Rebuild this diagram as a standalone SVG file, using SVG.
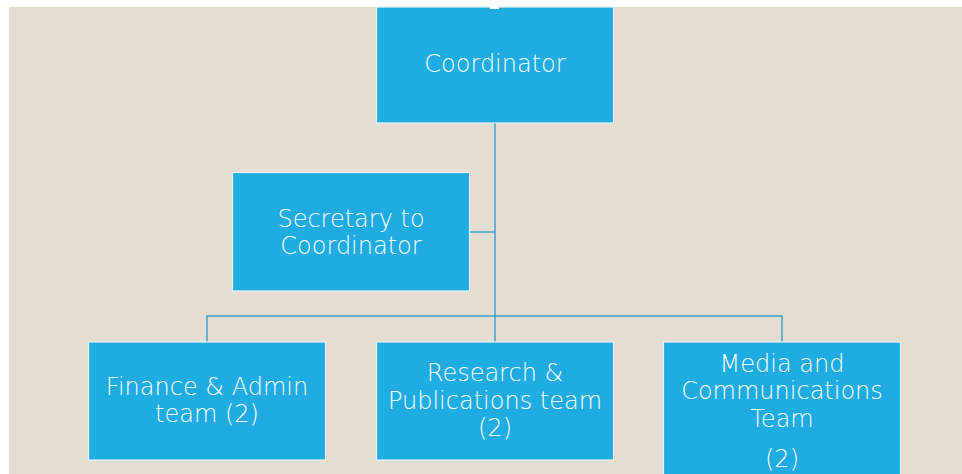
<svg xmlns="http://www.w3.org/2000/svg" width="962" height="474" viewBox="0 0 962 474">
<style>
.box{fill:#1eace3;stroke:#eaf2f2;stroke-width:1.2}
.lbl{font-family:"DejaVu Sans","Liberation Sans",sans-serif;font-size:24px;font-weight:300;fill:#ffffff;text-anchor:middle}
.conn{fill:none;stroke:#3a9ec9;stroke-width:1.4}
</style>
<rect x="0" y="0" width="962" height="474" fill="#ffffff"/>
<rect x="9" y="7" width="953" height="467" fill="#e3ddd2"/>
<g id="connectors">
<path class="conn" d="M495,123 V316"/>
<path class="conn" d="M470,232 H495"/>
<path class="conn" d="M207,342 V316 H782 V342"/>
<path class="conn" d="M495,316 V342"/>
</g>
<g id="coordinator">
<rect class="box" x="376.5" y="7" width="237" height="116"/>
<rect x="490" y="0" width="9" height="9" fill="#ffffff"/>
<text class="lbl" x="495" y="72">Coordinator</text>
</g>
<g id="secretary">
<rect class="box" x="232.5" y="172.5" width="237" height="118.5"/>
<text class="lbl" x="351" y="227">Secretary to</text>
<text class="lbl" x="351" y="254">Coordinator</text>
</g>
<g id="finance">
<rect class="box" x="88.5" y="342" width="237" height="118"/>
<text class="lbl" x="207" y="395">Finance &amp; Admin</text>
<text class="lbl" x="207" y="422">team (2)</text>
</g>
<g id="research">
<rect class="box" x="376.5" y="342" width="237" height="118"/>
<text class="lbl" x="495" y="381">Research &amp;</text>
<text class="lbl" x="495" y="409">Publications team</text>
<text class="lbl" x="495" y="436">(2)</text>
</g>
<g id="media">
<rect class="box" x="663.5" y="342" width="237" height="140"/>
<text class="lbl" x="782" y="372">Media and</text>
<text class="lbl" x="782" y="399">Communications</text>
<text class="lbl" x="782" y="427">Team</text>
<text class="lbl" x="782" y="467">(2)</text>
</g>
</svg>
